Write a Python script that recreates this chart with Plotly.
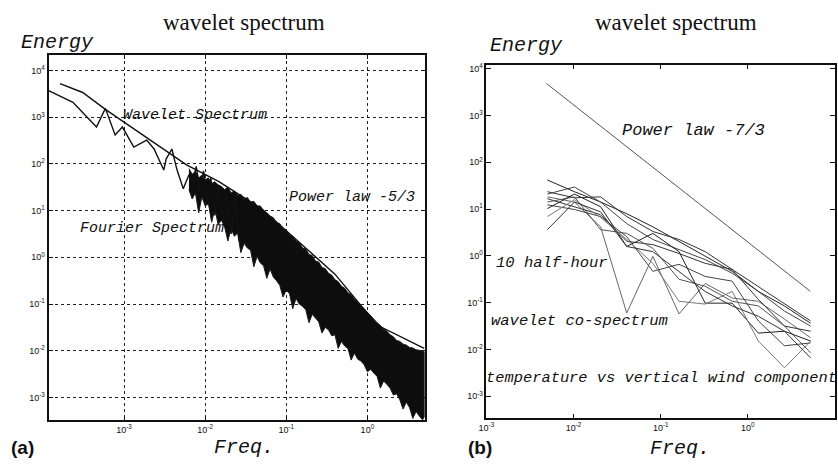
import numpy as np
import plotly.graph_objects as go

# ---------------- data (log10 values) ----------------
# Panel (a): Fourier spectrum, low-frequency jagged part
fourier_low_logf = [-3.93, -3.63, -3.34, -3.23, -3.11, -3.02, -2.88, -2.72, -2.63, -2.51, -2.48, -2.41,
                    -2.35, -2.27, -2.20, -2.15, -2.11, -2.06, -2.02, -1.97, -1.93, -1.88, -1.84, -1.78,
                    -1.74, -1.68, -1.63, -1.58]
fourier_low_logE = [3.57, 3.32, 2.79, 3.19, 2.62, 2.79, 2.36, 2.51, 2.32, 1.87, 2.11, 2.32,
                    1.89, 1.47, 1.77, 1.60, 1.95, 1.40, 1.85, 1.20, 1.70, 0.90, 1.55, 0.75,
                    1.45, 0.50, 1.30, 0.35]
# Panel (a): dense Fourier band, upper envelope
band_upper_logf = [-2.20, -2.16, -2.12, -2.08, -2.04, -2.00, -1.96, -1.92, -1.88, -1.84, -1.80, -1.76,
                   -1.72, -1.68, -1.64, -1.60, -1.56, -1.52, -1.48, -1.44, -1.40, -1.36, -1.32, -1.28,
                   -1.24, -1.20, -1.16, -1.12, -1.08, -1.04, -1.00, -0.96, -0.92, -0.88, -0.84, -0.80,
                   -0.76, -0.72, -0.68, -0.64, -0.60, -0.56, -0.52, -0.48, -0.44, -0.40, -0.36, -0.32,
                   -0.28, -0.24, -0.20, -0.16, -0.12, -0.08, -0.04, 0.00, 0.04, 0.08, 0.12, 0.16,
                   0.20, 0.24, 0.28, 0.32, 0.36, 0.40, 0.44, 0.48, 0.52, 0.56, 0.60, 0.64, 0.70]
band_upper_logE = [1.90, 1.78, 1.84, 1.70, 1.76, 1.66, 1.70, 1.58, 1.62, 1.55, 1.52, 1.45,
                   1.50, 1.38, 1.42, 1.33, 1.35, 1.25, 1.28, 1.18, 1.20, 1.10, 1.10, 1.00,
                   0.95, 0.88, 0.85, 0.74, 0.72, 0.60, 0.58, 0.48, 0.45, 0.35, 0.32, 0.20,
                   0.18, 0.06, 0.04, -0.08, -0.10, -0.22, -0.24, -0.34, -0.38, -0.48, -0.52, -0.62,
                   -0.66, -0.76, -0.80, -0.90, -0.95, -1.04, -1.10, -1.18, -1.25, -1.32, -1.40, -1.46,
                   -1.54, -1.58, -1.66, -1.70, -1.78, -1.80, -1.86, -1.88, -1.93, -1.94, -1.98, -1.99, -2.02]
# Panel (a): dense Fourier band, lower envelope
band_lower_logf = [-2.20, -2.16, -2.12, -2.08, -2.04, -2.00, -1.96, -1.92, -1.88, -1.84, -1.80, -1.76,
                   -1.72, -1.68, -1.64, -1.60, -1.56, -1.52, -1.48, -1.44, -1.40, -1.36, -1.32, -1.28,
                   -1.24, -1.20, -1.16, -1.12, -1.08, -1.04, -1.00, -0.96, -0.92, -0.88, -0.84, -0.80,
                   -0.76, -0.72, -0.68, -0.64, -0.60, -0.56, -0.52, -0.48, -0.44, -0.40, -0.36, -0.32,
                   -0.28, -0.24, -0.20, -0.16, -0.12, -0.08, -0.04, 0.00, 0.04, 0.08, 0.12, 0.16,
                   0.20, 0.24, 0.28, 0.32, 0.36, 0.40, 0.44, 0.48, 0.52, 0.56, 0.60, 0.64, 0.68, 0.70]
band_lower_logE = [1.45, 1.25, 1.38, 0.95, 1.30, 1.10, 1.15, 0.75, 1.05, 0.70, 0.80, 0.65,
                   0.35, 0.62, 0.45, 0.52, 0.10, 0.30, 0.20, 0.15, -0.20, 0.02, -0.12, -0.18,
                   -0.45, -0.25, -0.42, -0.50, -0.60, -0.85, -0.70, -0.78, -1.10, -0.88, -1.00, -1.05,
                   -1.12, -1.40, -1.22, -1.30, -1.38, -1.62, -1.50, -1.55, -1.68, -1.66, -1.95, -1.80,
                   -1.90, -1.95, -2.20, -2.05, -2.18, -2.22, -2.30, -2.45, -2.40, -2.48, -2.55, -2.80,
                   -2.65, -2.72, -2.80, -2.95, -2.92, -3.05, -3.25, -3.10, -3.22, -3.45, -3.30, -3.40, -3.48, -3.42]
# Panel (a): wavelet spectrum
wavelet_logf = [-3.79, -3.51, -3.23, -2.23, -1.83, -1.29, -0.40, 0.12, 0.70]
wavelet_logE = [3.72, 3.53, 3.17, 1.98, 1.62, 1.02, -0.36, -1.45, -1.95]

# Panel (b): power law -7/3 reference line
powerlaw_logf = [-2.31, 0.716]
powerlaw_logE = [3.68, -0.756]
# Panel (b): 10 half-hour wavelet co-spectra (dyadic scales)
cospec_logf = [-2.30, -1.99, -1.69, -1.39, -1.09, -0.79, -0.49, -0.18, 0.12, 0.42, 0.72]
cospec_logE = [
    [1.62, 1.37, 1.15, 0.90, 0.62, 0.31, -0.01, -0.33, -0.76, -1.07, -1.44],
    [1.37, 1.24, 1.26, 0.84, 0.52, 0.35, 0.09, -0.29, -0.65, -1.03, -1.39],
    [1.32, 1.47, 1.15, 0.69, 0.35, 0.14, -0.08, -0.37, -0.76, -1.18, -1.50],
    [1.26, 1.15, 0.62, -1.22, -0.01, -1.24, -0.59, -0.90, -0.97, -1.35, -1.75],
    [1.22, 1.05, 0.88, 0.31, 0.24, 0.05, -0.16, -0.29, -0.93, -1.50, -1.61],
    [1.15, 1.26, 0.56, 0.48, 0.16, -0.50, -0.65, -0.97, -1.07, -1.50, -2.07],
    [1.09, 0.99, 0.84, 0.41, -0.33, -0.18, -0.44, -0.54, -1.39, -1.92, -1.86],
    [1.01, 1.32, 1.05, 0.20, 0.48, 0.09, -1.01, -1.01, -1.65, -1.61, -1.82],
    [0.84, 1.20, 0.82, 0.35, -0.16, -0.97, -1.03, -0.76, -1.82, -2.39, -1.82],
    [0.56, 1.15, 0.94, 0.20, 0.09, -0.33, -0.76, -1.07, -1.29, -1.61, -2.18],
]
cospec_colors = ["#222", "#333", "#444", "#666", "#333", "#555", "#444", "#222", "#777", "#333"]

# tick labels
left_xtick_exp = [-3, -2, -1, 0]
right_xtick_exp = [-3, -2, -1, 0, 1]
ytick_exp = [-3, -2, -1, 0, 1, 2, 3, 4]


def p10(a):
    return np.power(10.0, np.asarray(a, dtype=float))


def tlabels(exps):
    return ["10<sup>%d</sup>" % e for e in exps]


fig = go.Figure()

# ---- panel (a)
band_x = list(p10(band_upper_logf)) + list(p10(band_lower_logf))[::-1]
band_y = list(p10(band_upper_logE)) + list(p10(band_lower_logE))[::-1]
fig.add_trace(go.Scatter(x=band_x, y=band_y, mode="lines", fill="toself", fillcolor="#0d0d0d",
                         line=dict(color="#1a1a1a", width=1), xaxis="x", yaxis="y", hoverinfo="skip"))
fig.add_trace(go.Scatter(x=p10(fourier_low_logf), y=p10(fourier_low_logE), mode="lines",
                         line=dict(color="#111", width=1.4), xaxis="x", yaxis="y"))
fig.add_trace(go.Scatter(x=p10(wavelet_logf), y=p10(wavelet_logE), mode="lines",
                         line=dict(color="#111", width=1.4), xaxis="x", yaxis="y"))

# ---- panel (b)
fig.add_trace(go.Scatter(x=p10(powerlaw_logf), y=p10(powerlaw_logE), mode="lines",
                         line=dict(color="#555", width=1), xaxis="x2", yaxis="y2"))
for vals, col in zip(cospec_logE, cospec_colors):
    fig.add_trace(go.Scatter(x=p10(cospec_logf), y=p10(vals), mode="lines",
                             line=dict(color=col, width=1), xaxis="x2", yaxis="y2"))

W, H = 838, 467
tickfont = dict(family="Liberation Sans, Arial", size=9, color="#111")
common_axis = dict(type="log", showline=True, linecolor="#111", mirror="ticks", ticks="inside",
                   tickcolor="#111", tickfont=tickfont, zeroline=False)

fig.update_layout(
    width=W, height=H, margin=dict(l=0, r=0, t=0, b=0),
    paper_bgcolor="white", plot_bgcolor="white", showlegend=False,
    xaxis=dict(common_axis, domain=[41 / W, 421 / W], range=[-3.93, 0.71], linewidth=2,
               tickvals=p10(left_xtick_exp), ticktext=tlabels(left_xtick_exp), ticklen=4,
               showgrid=True, gridcolor="#222", griddash="dot", gridwidth=1, anchor="y"),
    yaxis=dict(common_axis, domain=[1 - 420 / H, 1 - 52 / H], range=[-3.49, 4.34], linewidth=2,
               tickvals=p10(ytick_exp), ticktext=tlabels(ytick_exp), ticklen=4,
               showgrid=True, gridcolor="#222", griddash="dot", gridwidth=1, anchor="x"),
    xaxis2=dict(common_axis, domain=[483 / W, 835 / W], range=[-3, 1], linewidth=1.5,
                tickvals=p10(right_xtick_exp), ticktext=tlabels(right_xtick_exp), ticklen=5,
                showgrid=False, anchor="y2"),
    yaxis2=dict(common_axis, domain=[1 - 418 / H, 1 - 62 / H], range=[-3.47, 4.085], linewidth=1.5,
                tickvals=p10(ytick_exp), ticktext=tlabels(ytick_exp), ticklen=5,
                showgrid=False, anchor="x2"),
)

mono = "Liberation Mono, Courier New, monospace"
serif = "Liberation Serif, Times New Roman, serif"


def ann(text, px, py, size, family=mono, xanchor="left", italic=True, bold=False):
    t = text
    if italic:
        t = "<i>" + t + "</i>"
    if bold:
        t = "<b>" + t + "</b>"
    fig.add_annotation(x=px / W, y=1 - py / H, xref="paper", yref="paper", text=t, showarrow=False,
                       xanchor=xanchor, yanchor="middle",
                       font=dict(family=family, size=size, color="#111"))


ann("wavelet spectrum", 238, 20, 23, family=serif, xanchor="center", italic=False)
ann("wavelet spectrum", 674, 20, 23, family=serif, xanchor="center", italic=False)
ann("Energy", 11, 40, 20)
ann("Energy", 485, 43, 20)
ann("Freq.", 206, 447, 20)
ann("Freq.", 646, 448, 20)
ann("(a)", 1, 447, 19, family="Liberation Sans, Arial", italic=False, bold=True)
ann("(b)", 462, 447, 19, family="Liberation Sans, Arial", italic=False, bold=True)
ann("Wavelet Spectrum", 114, 113, 15)
ann("Power law -5/3", 282, 196, 15)
ann("Fourier Spectrum", 71, 227, 15)
ann("Power law -7/3", 618, 128, 17)
ann("10 half-hour", 491, 262, 15.5)
ann("wavelet co-spectrum", 486, 320, 15.5)
ann("temperature vs vertical wind component", 481, 377, 15.4)

fig.write_html("out.html", config={"displayModeBar": False},
               post_script="document.body.style.margin='0px';document.body.style.padding='0px';")
